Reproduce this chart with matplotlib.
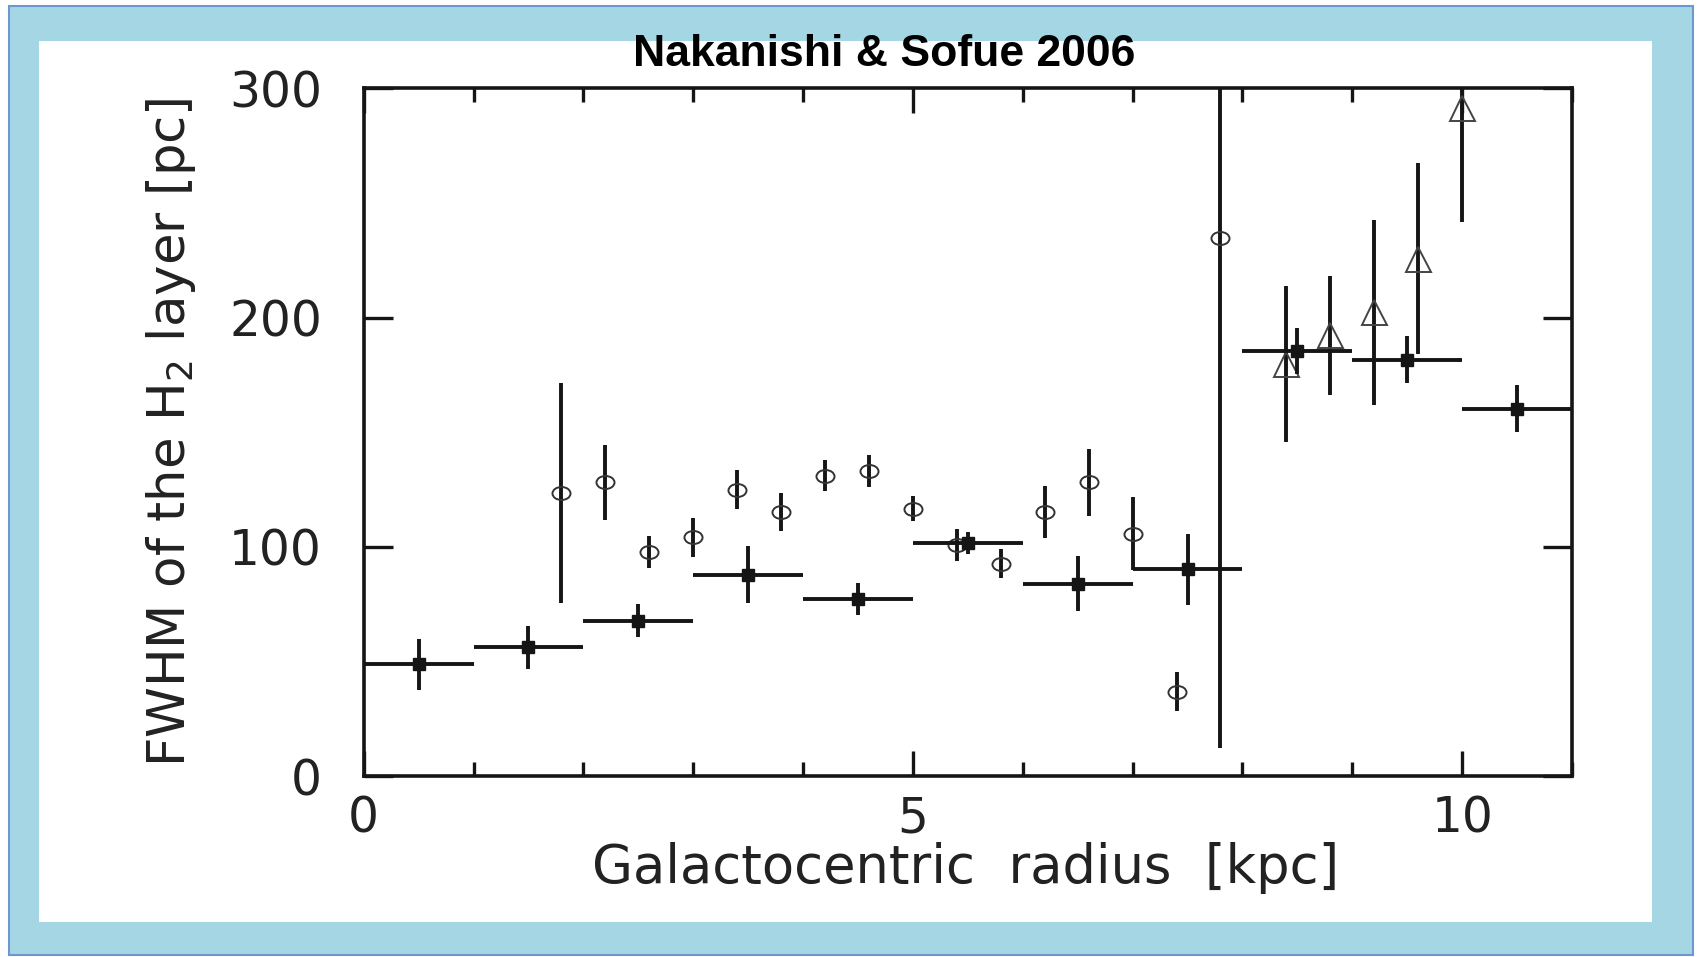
import matplotlib
matplotlib.use('Agg')
import matplotlib.pyplot as plt
from matplotlib.patches import Rectangle
from matplotlib.path import Path
from matplotlib.ticker import MultipleLocator
import numpy as np

# binned FWHM (filled squares), 1 kpc bins
bin_r = [0.5, 1.5, 2.5, 3.5, 4.5, 5.5, 6.5, 7.5, 8.5, 9.5, 10.5]
bin_fwhm = [48.7, 56.1, 67.7, 87.8, 77.4, 101.7, 83.8, 90.2, 185.3, 181.7, 160.3]
bin_err = [11.0, 9.5, 7.2, 12.5, 7.0, 4.7, 12.0, 15.4, 10.0, 10.3, 10.4]
bin_half = [0.5] * len(bin_r)

# individual rings (open circles)
ring_r = [1.8, 2.2, 2.6, 3.0, 3.4, 3.8, 4.2, 4.6, 5.0, 5.4, 5.8, 6.2, 6.6, 7.0, 7.4, 7.8]
ring_fwhm = [123.3, 128.1, 97.7, 104.1, 124.9, 115.3, 131.1, 133.1, 116.7, 100.7,
             92.7, 115.3, 128.1, 105.7, 36.8, 234.7]
ring_err = [48.0, 16.5, 7.0, 8.5, 8.5, 8.3, 6.8, 6.8, 5.3, 7.0, 6.5, 11.3, 14.7, 16.0,
            8.5, 222.5]

# outer rings (open triangles)
tri_r = [8.4, 8.8, 9.2, 9.6, 10.0]
tri_fwhm = [179.7, 192.3, 202.3, 225.7, 291.3]
tri_err = [34.0, 26.0, 40.3, 41.7, 49.4]

W, H = 1701, 957
plt.rcParams['font.family'] = ['DejaVu Sans']
plt.rcParams['mathtext.default'] = 'regular'

fig = plt.figure(figsize=(W / 100, H / 100), dpi=100)
fig.patch.set_facecolor('white')

# slide frame: blue border with white panel
fig.patches.append(Rectangle((9 / W, 1 - 955 / H), 1684 / W, 949 / H, transform=fig.transFigure,
                             facecolor='#a4d6e4', edgecolor='#6b98cf', linewidth=1.5, zorder=-2))
fig.patches.append(Rectangle((39 / W, 1 - 922 / H), 1613 / W, 881 / H, transform=fig.transFigure,
                             facecolor='white', edgecolor='none', zorder=-1))

ax = fig.add_axes([363.7 / W, 1 - 776 / H, 1208.3 / W, 687.6 / H])
ax.set_zorder(2)
ax.patch.set_alpha(0)

lw = 2.8
ink = '#151515'
ell = Path(Path.unit_circle().vertices * np.array([1.0, 0.72]), Path.unit_circle().codes)

ax.errorbar(ring_r, ring_fwhm, yerr=ring_err, fmt='none', ecolor=ink, elinewidth=lw,
            capsize=0, zorder=2)
ax.plot(ring_r, ring_fwhm, linestyle='none', marker=ell, markersize=13, markerfacecolor='none',
        markeredgecolor='#333333', markeredgewidth=1.4, zorder=3)

ax.errorbar(tri_r, tri_fwhm, yerr=tri_err, fmt='none', ecolor=ink, elinewidth=lw,
            capsize=0, zorder=2)
ax.plot(tri_r, tri_fwhm, linestyle='none', marker='^', markersize=18, markerfacecolor='none',
        markeredgecolor='#444444', markeredgewidth=1.4, zorder=3)

ax.errorbar(bin_r, bin_fwhm, xerr=bin_half, yerr=bin_err, fmt='s', color=ink,
            markersize=9, elinewidth=lw, capsize=0, zorder=4)

ax.set_xlim(0, 11)
ax.set_ylim(0, 300)
ax.set_xticks([0, 5, 10])
ax.xaxis.set_minor_locator(MultipleLocator(1))
ax.set_yticks([0, 100, 200, 300])

for s in ax.spines.values():
    s.set_linewidth(2.6)
    s.set_color(ink)

ax.tick_params(axis='both', which='both', direction='in', top=True, right=True,
               color=ink, width=2.4, labelsize=35, labelcolor='#222222')
ax.tick_params(axis='x', which='major', length=18, pad=13)
ax.tick_params(axis='x', which='minor', length=10)
ax.tick_params(axis='y', which='major', length=21, pad=30)

fig.text(966 / W, 1 - 868 / H, 'Galactocentric  radius  [kpc]', ha='center', va='center',
         fontsize=38, color='#222222')
fig.text(171 / W, 1 - 432 / H, 'FWHM of the H$_2$ layer [pc]', ha='center', va='center',
         rotation=90, fontsize=37, color='#222222')

fig.text(884 / W, 1 - 54 / H, 'Nakanishi & Sofue 2006', ha='center', va='center',
         fontsize=32, fontweight='bold', family=['Liberation Sans', 'DejaVu Sans'])

fig.savefig('out.png', dpi=100)
